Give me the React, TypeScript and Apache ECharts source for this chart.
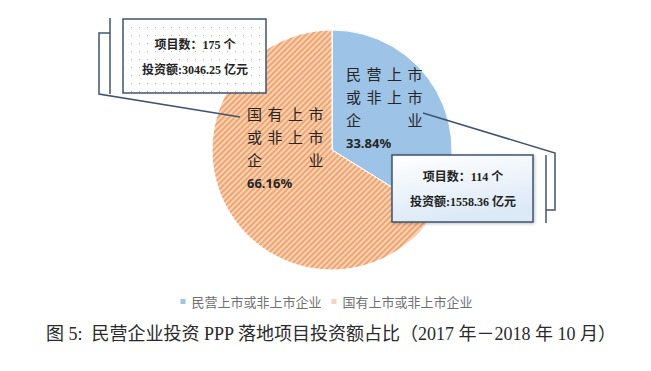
import React, { useEffect, useRef } from "react";
import * as echarts from "echarts";

const categories = ["民营上市或非上市企业", "国有上市或非上市企业"];
const shares = [33.84, 66.16];
const projectCounts = [114, 175];
const investAmounts = ["1558.36", "3046.25"];
const labelLines = [
  ["民营上市", "或非上市", "企　　业"],
  ["国有上市", "或非上市", "企　　业"],
];
const caption = "图 5:  民营企业投资 PPP 落地项目投资额占比（2017 年－2018 年 10 月）";

export default function App() {
  const ref = useRef<HTMLDivElement>(null);
  useEffect(() => {
    if (!ref.current) return;
    const chart = echarts.init(ref.current, undefined, { renderer: "svg" });

    const dot = document.createElement("canvas");
    dot.width = 8;
    dot.height = 8;
    const ctx = dot.getContext("2d");
    if (ctx) {
      ctx.fillStyle = "#ffffff";
      ctx.fillRect(0, 0, 8, 8);
      ctx.fillStyle = "#b9b9b9";
      ctx.fillRect(3, 3, 1, 1);
    }

    const cx = 332, cy = 150, r = 120;
    const labelPos = [
      { x: 346, y: 62 },
      { x: 247, y: 102 },
    ];
    const lineColor = "#3f5470";
    const Z = 100;
    const boxText = (y: number, x: number, txt: string) => ({
      type: "text",
      z: Z + 2,
      x,
      y,
      style: {
        text: txt,
        font: "bold 12px 'Liberation Serif', 'Noto Sans CJK SC'",
        fill: "#222",
        align: "center",
        verticalAlign: "middle",
      },
    });

    const fmtLabel = (i: number) => {
      const rows = labelLines[i].map((l) =>
        l.split("").map((c) => `{c|${c}}`).join("")
      );
      return rows.join("\n") + `\n{p|${shares[i].toFixed(2)}%}`;
    };

    chart.setOption({
      animation: false,
      legend: {
        data: categories,
        left: "center",
        top: 290,
        icon: "rect",
        itemWidth: 7,
        itemHeight: 7,
        itemGap: 8,
        itemStyle: { decal: "none" },
        textStyle: {
          color: "#707070",
          fontSize: 13,
          fontFamily: "'Noto Sans CJK SC'",
        },
      },
      series: [
        {
          type: "pie",
          center: [cx, cy],
          radius: [0, r],
          startAngle: 90,
          clockwise: true,
          silent: true,
          itemStyle: { borderColor: "#ffffff", borderWidth: 1 },
          label: {
            show: true,
            position: "inside",
            formatter: (p: any) => fmtLabel(p.dataIndex),
            rich: {
              c: {
                width: 20.5,
                align: "left",
                fontSize: 15,
                lineHeight: 23,
                color: "#262626",
                fontFamily: "'Noto Sans CJK SC'",
              },
              p: {
                fontSize: 13,
                fontWeight: "bold",
                lineHeight: 24,
                color: "#262626",
                fontFamily: "'Noto Sans', 'Noto Sans CJK SC'",
              },
            },
          },
          labelLine: { show: false },
          labelLayout: (params: any) => ({
            x: labelPos[params.dataIndex].x,
            y: labelPos[params.dataIndex].y,
            align: "left",
            verticalAlign: "top",
          }),
          data: [
            {
              name: categories[0],
              value: shares[0],
              itemStyle: { color: "#9dc3e6" },
            },
            {
              name: categories[1],
              value: shares[1],
              itemStyle: {
                color: "#f9d3b7",
                decal: {
                  symbol: "rect",
                  symbolSize: 1,
                  dashArrayX: [1, 0],
                  dashArrayY: [1.6, 1.4],
                  rotation: -Math.PI / 4,
                  color: "#f1a46e",
                },
              },
            },
          ],
        },
      ],
      graphic: [
        // left leader
        { type: "line", z: Z, shape: { x1: 110, y1: 18, x2: 110, y2: 94 }, style: { stroke: lineColor, lineWidth: 1.5 } },
        {
          type: "polyline",
          z: Z,
          shape: { points: [[110, 33], [99, 33], [99, 94], [240, 117]] },
          style: { stroke: lineColor, lineWidth: 1.5, fill: "none" },
        },
        // right leader
        { type: "line", z: Z, shape: { x1: 546, y1: 155, x2: 546, y2: 223 }, style: { stroke: lineColor, lineWidth: 1.5 } },
        {
          type: "polyline",
          z: Z,
          shape: { points: [[423, 113], [555, 153], [555, 210], [546, 210]] },
          style: { stroke: lineColor, lineWidth: 1.5, fill: "none" },
        },
        // left box
        {
          type: "rect",
          z: Z + 1,
          shape: { x: 123, y: 19, width: 143, height: 74 },
          style: { fill: { image: dot, repeat: "repeat" } as any, stroke: lineColor, lineWidth: 1.5 },
        },
        boxText(45, 195, `项目数：${projectCounts[1]} 个`),
        boxText(70, 195, `投资额:${investAmounts[1]} 亿元`),
        // right box
        {
          type: "rect",
          z: Z + 1,
          shape: { x: 392, y: 155, width: 141, height: 67 },
          style: {
            fill: new echarts.graphic.LinearGradient(0, 0, 0.3, 1, [
              { offset: 0, color: "#ffffff" },
              { offset: 1, color: "#dce9f6" },
            ]),
            stroke: lineColor,
            lineWidth: 1.5,
            shadowBlur: 3,
            shadowColor: "rgba(0,0,0,0.25)",
            shadowOffsetX: 1,
            shadowOffsetY: 1,
          },
        },
        boxText(177, 463, `项目数：${projectCounts[0]} 个`),
        boxText(202, 463, `投资额:${investAmounts[0]} 亿元`),
        // caption
        {
          type: "text",
          z: Z,
          x: 331,
          y: 334,
          style: {
            text: caption,
            font: "18px 'Liberation Serif', 'Noto Sans CJK SC'",
            fill: "#2a2a2a",
            align: "center",
            verticalAlign: "middle",
          },
        },
      ],
    });
    return () => chart.dispose();
  }, []);
  return (
    <div
      ref={ref}
      style={{ position: "fixed", left: 0, top: 0, width: 651, height: 371, background: "#fff" }}
    />
  );
}
